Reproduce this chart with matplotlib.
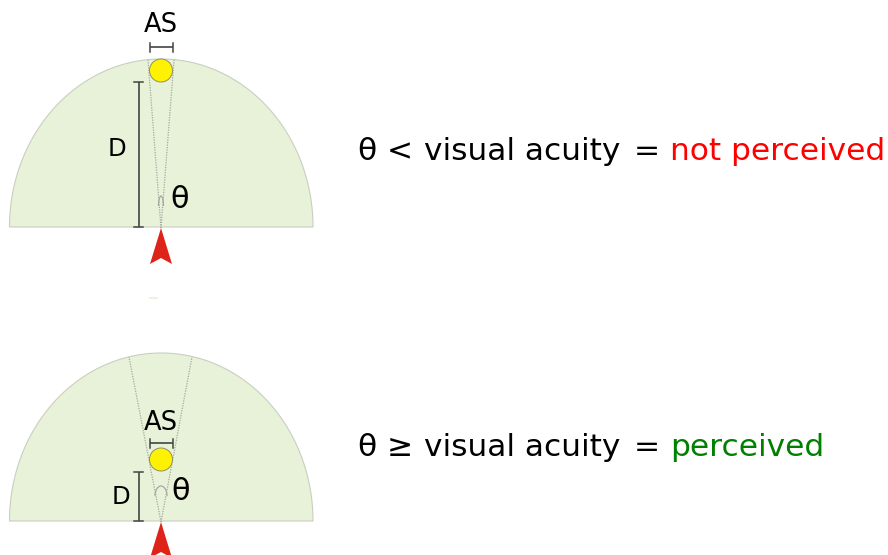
"""Visual acuity diagram: object perceived or not depending on angular size."""
import numpy as np

import matplotlib

matplotlib.use("Agg")
import matplotlib.pyplot as plt
from matplotlib.patches import Arc, Circle, Polygon

PANEL_BASE_Y = [227, 521]
PANEL_TOP_Y = [59, 353]
DOME_LEFT_X = 9.5
DOME_RIGHT_X = 313
VIEWER_X = 161

OBJECT_Y = [70.5, 459.5]
OBJECT_R = [11.5, 11.5]
AS_BAR_Y = [47, 443]
AS_BAR_X = [150, 173]
AS_LABEL_Y = [25.5, 422.5]
D_BAR_X = 138.5
D_BAR_TOP = [82, 472]
D_LABEL_X = [117, 121]
D_LABEL_Y = [149, 497]
THETA_XY = [(180, 200), (181, 491)]
CONE_ENDS = [((148, 60), (174, 60)), ((129, 357), (192, 357))]
ANGLE_ARC_Y = [196, 486]
ANGLE_ARC_W = [5, 12]
ARROW_DY = [0, 294]
ARROW_SHAPE = [(161, 228), (150, 264), (161, 258), (172, 264)]

CAPTION_BASELINE = [160, 456]
CAPTION_THETA = "θ"
CAPTION_SIGN = ["<", "≥"]
CAPTION_BODY = "visual acuity"
CAPTION_EQUALS = "="
CAPTION_RESULT = ["not perceived", "perceived"]
CAPTION_COLORS = ["#ff0000", "#008000"]

DOME_COLOR = "#e8f2d9"
DOME_EDGE = "#c9cfc0"
BAR_COLOR = "#444444"
DOT_COLOR = "#a5a99f"


def draw_bar(ax, xs, ys, horizontal):
    ax.plot(xs, ys, color=BAR_COLOR, lw=1.2, solid_capstyle="butt")
    if horizontal:
        for x in xs:
            ax.plot([x, x], [ys[0] - 4.5, ys[0] + 4.5], color=BAR_COLOR, lw=1.1)
    else:
        for y in ys:
            ax.plot([xs[0] - 4.5, xs[0] + 4.5], [y, y], color=BAR_COLOR, lw=1.1)


def caption(ax, x, y, s, color="black"):
    ax.text(x, y, s, fontsize=22.5, va="baseline", ha="left", color=color)


fig = plt.figure(figsize=(8.88, 5.55), dpi=100)
ax = fig.add_axes([0, 0, 1, 1])
ax.set_xlim(0, 888)
ax.set_ylim(555, 0)
ax.axis("off")

for i in range(2):
    base = PANEL_BASE_Y[i]
    # half ellipse for the field of view
    t = np.linspace(0, np.pi, 200)
    rx = (DOME_RIGHT_X - DOME_LEFT_X) / 2
    cx = (DOME_RIGHT_X + DOME_LEFT_X) / 2
    ry = base - PANEL_TOP_Y[i]
    dome = np.column_stack([cx + rx * np.cos(t), base - ry * np.sin(t)])
    ax.add_patch(Polygon(dome, closed=True, fc=DOME_COLOR, ec=DOME_EDGE, lw=0.8))

    # sight cone
    for end in CONE_ENDS[i]:
        ax.plot([VIEWER_X, end[0]], [base + 1, end[1]], color=DOT_COLOR,
                lw=0.9, ls=(0, (1, 1)))
    ax.add_patch(Arc((VIEWER_X, ANGLE_ARC_Y[i] + 10), ANGLE_ARC_W[i], 20,
                     theta1=180, theta2=360, ec=DOT_COLOR, lw=0.9))

    ax.add_patch(Circle((VIEWER_X, OBJECT_Y[i]), OBJECT_R[i], fc="#fff200",
                        ec="#8f8f60", lw=0.7, zorder=3))
    draw_bar(ax, AS_BAR_X, [AS_BAR_Y[i], AS_BAR_Y[i]], True)
    draw_bar(ax, [D_BAR_X, D_BAR_X], [D_BAR_TOP[i], base], False)

    ax.text(VIEWER_X, AS_LABEL_Y[i], "AS", fontsize=18.5, ha="center", va="center")
    ax.text(D_LABEL_X[i], D_LABEL_Y[i], "D", fontsize=17.5, ha="center", va="center")
    ax.text(*THETA_XY[i], "θ", fontsize=22, ha="center", va="center")

    arrow = [(x, y + ARROW_DY[i]) for x, y in ARROW_SHAPE]
    ax.add_patch(Polygon(arrow, closed=True, fc="#de2419", ec="none", zorder=3))

    # caption pieces, the reference spaces them wider than DejaVu does
    y = CAPTION_BASELINE[i]
    caption(ax, 357, y, CAPTION_THETA)
    caption(ax, 387, y, CAPTION_SIGN[i])
    caption(ax, 424, y, CAPTION_BODY)
    caption(ax, 634, y, CAPTION_EQUALS)
    caption(ax, 670, y, CAPTION_RESULT[i], CAPTION_COLORS[i])

# faint speck between the panels
ax.plot([150, 157], [298, 298], color=DOME_COLOR, lw=1.2)

fig.savefig("out.png", dpi=100)
plt.close(fig)
